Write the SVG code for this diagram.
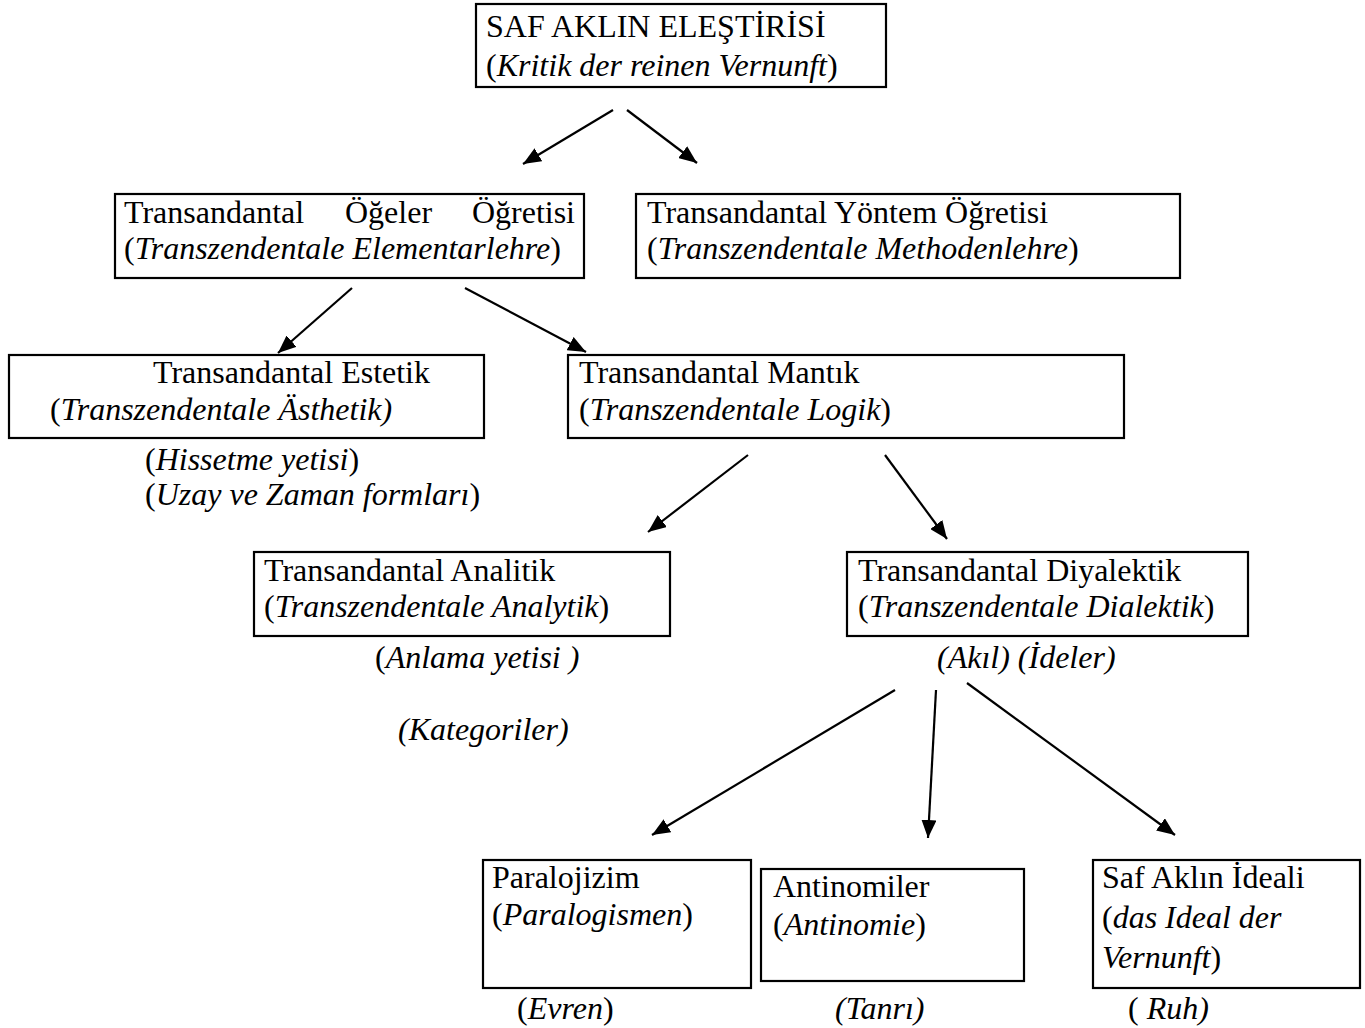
<svg xmlns="http://www.w3.org/2000/svg" width="1365" height="1028" viewBox="0 0 1365 1028">
<defs>
<marker id="ah" viewBox="0 0 18 15" refX="18" refY="7.5" markerWidth="18" markerHeight="15" markerUnits="userSpaceOnUse" orient="auto">
<path d="M0,0 L18,7.5 L0,15 Z" fill="#000"/>
</marker>
<style>
.box{fill:#fff;stroke:#000;stroke-width:2.2}
text{font-family:"Liberation Serif","Times New Roman",serif;font-size:32px;fill:#000}
.i{font-style:italic}
.c line{stroke:#000;stroke-width:2.2;marker-end:url(#ah)}
</style>
</defs>
<rect width="1365" height="1028" fill="#fff"/>
<g class="c" id="connectors">
<line x1="613" y1="110" x2="523" y2="164"/>
<line x1="627" y1="110" x2="697" y2="163"/>
<line x1="352" y1="288" x2="278" y2="353"/>
<line x1="465" y1="288" x2="586" y2="352"/>
<line x1="748" y1="455" x2="648" y2="532"/>
<line x1="885" y1="455" x2="947" y2="539"/>
<line x1="895" y1="690" x2="652" y2="835"/>
<line x1="936" y1="690" x2="928" y2="838"/>
<line x1="967" y1="683" x2="1175" y2="835"/>
</g>
<g id="n1">
<rect class="box" x="476" y="4" width="410" height="83"/>
<text x="486" y="37">SAF AKLIN ELEŞTİRİSİ</text>
<text x="486" y="76">(<tspan class="i">Kritik der reinen Vernunft</tspan>)</text>
</g>
<g id="n2">
<rect class="box" x="115" y="194" width="469" height="84"/>
<text x="124" y="223">Transandantal</text>
<text x="345" y="223">Öğeler</text>
<text x="575" y="223" text-anchor="end">Öğretisi</text>
<text x="124" y="259">(<tspan class="i">Transzendentale Elementarlehre</tspan>)</text>
</g>
<g id="n3">
<rect class="box" x="636" y="194" width="544" height="84"/>
<text x="647" y="223">Transandantal Yöntem Öğretisi</text>
<text x="647" y="259">(<tspan class="i">Transzendentale Methodenlehre</tspan>)</text>
</g>
<g id="n4">
<rect class="box" x="9" y="355" width="475" height="83"/>
<text x="153" y="383">Transandantal Estetik</text>
<text x="50" y="420">(<tspan class="i">Transzendentale Ästhetik)</tspan></text>
<text x="145" y="470">(<tspan class="i">Hissetme yetisi</tspan>)</text>
<text x="145" y="505">(<tspan class="i">Uzay ve Zaman formları</tspan>)</text>
</g>
<g id="n5">
<rect class="box" x="568" y="355" width="556" height="83"/>
<text x="579" y="383">Transandantal Mantık</text>
<text x="579" y="420">(<tspan class="i">Transzendentale Logik</tspan>)</text>
</g>
<g id="n6">
<rect class="box" x="254" y="552" width="416" height="84"/>
<text x="264" y="581">Transandantal Analitik</text>
<text x="264" y="617">(<tspan class="i">Transzendentale Analytik</tspan>)</text>
<text x="375" y="668">(<tspan class="i">Anlama yetisi )</tspan></text>
<text x="398" y="740" class="i">(Kategoriler)</text>
</g>
<g id="n7">
<rect class="box" x="847" y="552" width="401" height="84"/>
<text x="858" y="581">Transandantal Diyalektik</text>
<text x="858" y="617">(<tspan class="i">Transzendentale Dialektik</tspan>)</text>
<text x="937" y="668" class="i">(Akıl) (İdeler)</text>
</g>
<g id="n8">
<rect class="box" x="483" y="860" width="268" height="128"/>
<text x="492" y="888">Paralojizim</text>
<text x="492" y="925">(<tspan class="i">Paralogismen</tspan>)</text>
<text x="517" y="1019">(<tspan class="i">Evren</tspan>)</text>
</g>
<g id="n9">
<rect class="box" x="761" y="869" width="263" height="112"/>
<text x="773" y="897">Antinomiler</text>
<text x="773" y="935">(<tspan class="i">Antinomie</tspan>)</text>
<text x="835" y="1019" class="i">(Tanrı)</text>
</g>
<g id="n10">
<rect class="box" x="1093" y="860" width="267" height="128"/>
<text x="1102" y="888">Saf Aklın İdeali</text>
<text x="1102" y="928">(<tspan class="i">das Ideal der</tspan></text>
<text x="1102" y="968"><tspan class="i">Vernunft</tspan>)</text>
<text x="1128" y="1019">( <tspan class="i">Ruh)</tspan></text>
</g>
</svg>
